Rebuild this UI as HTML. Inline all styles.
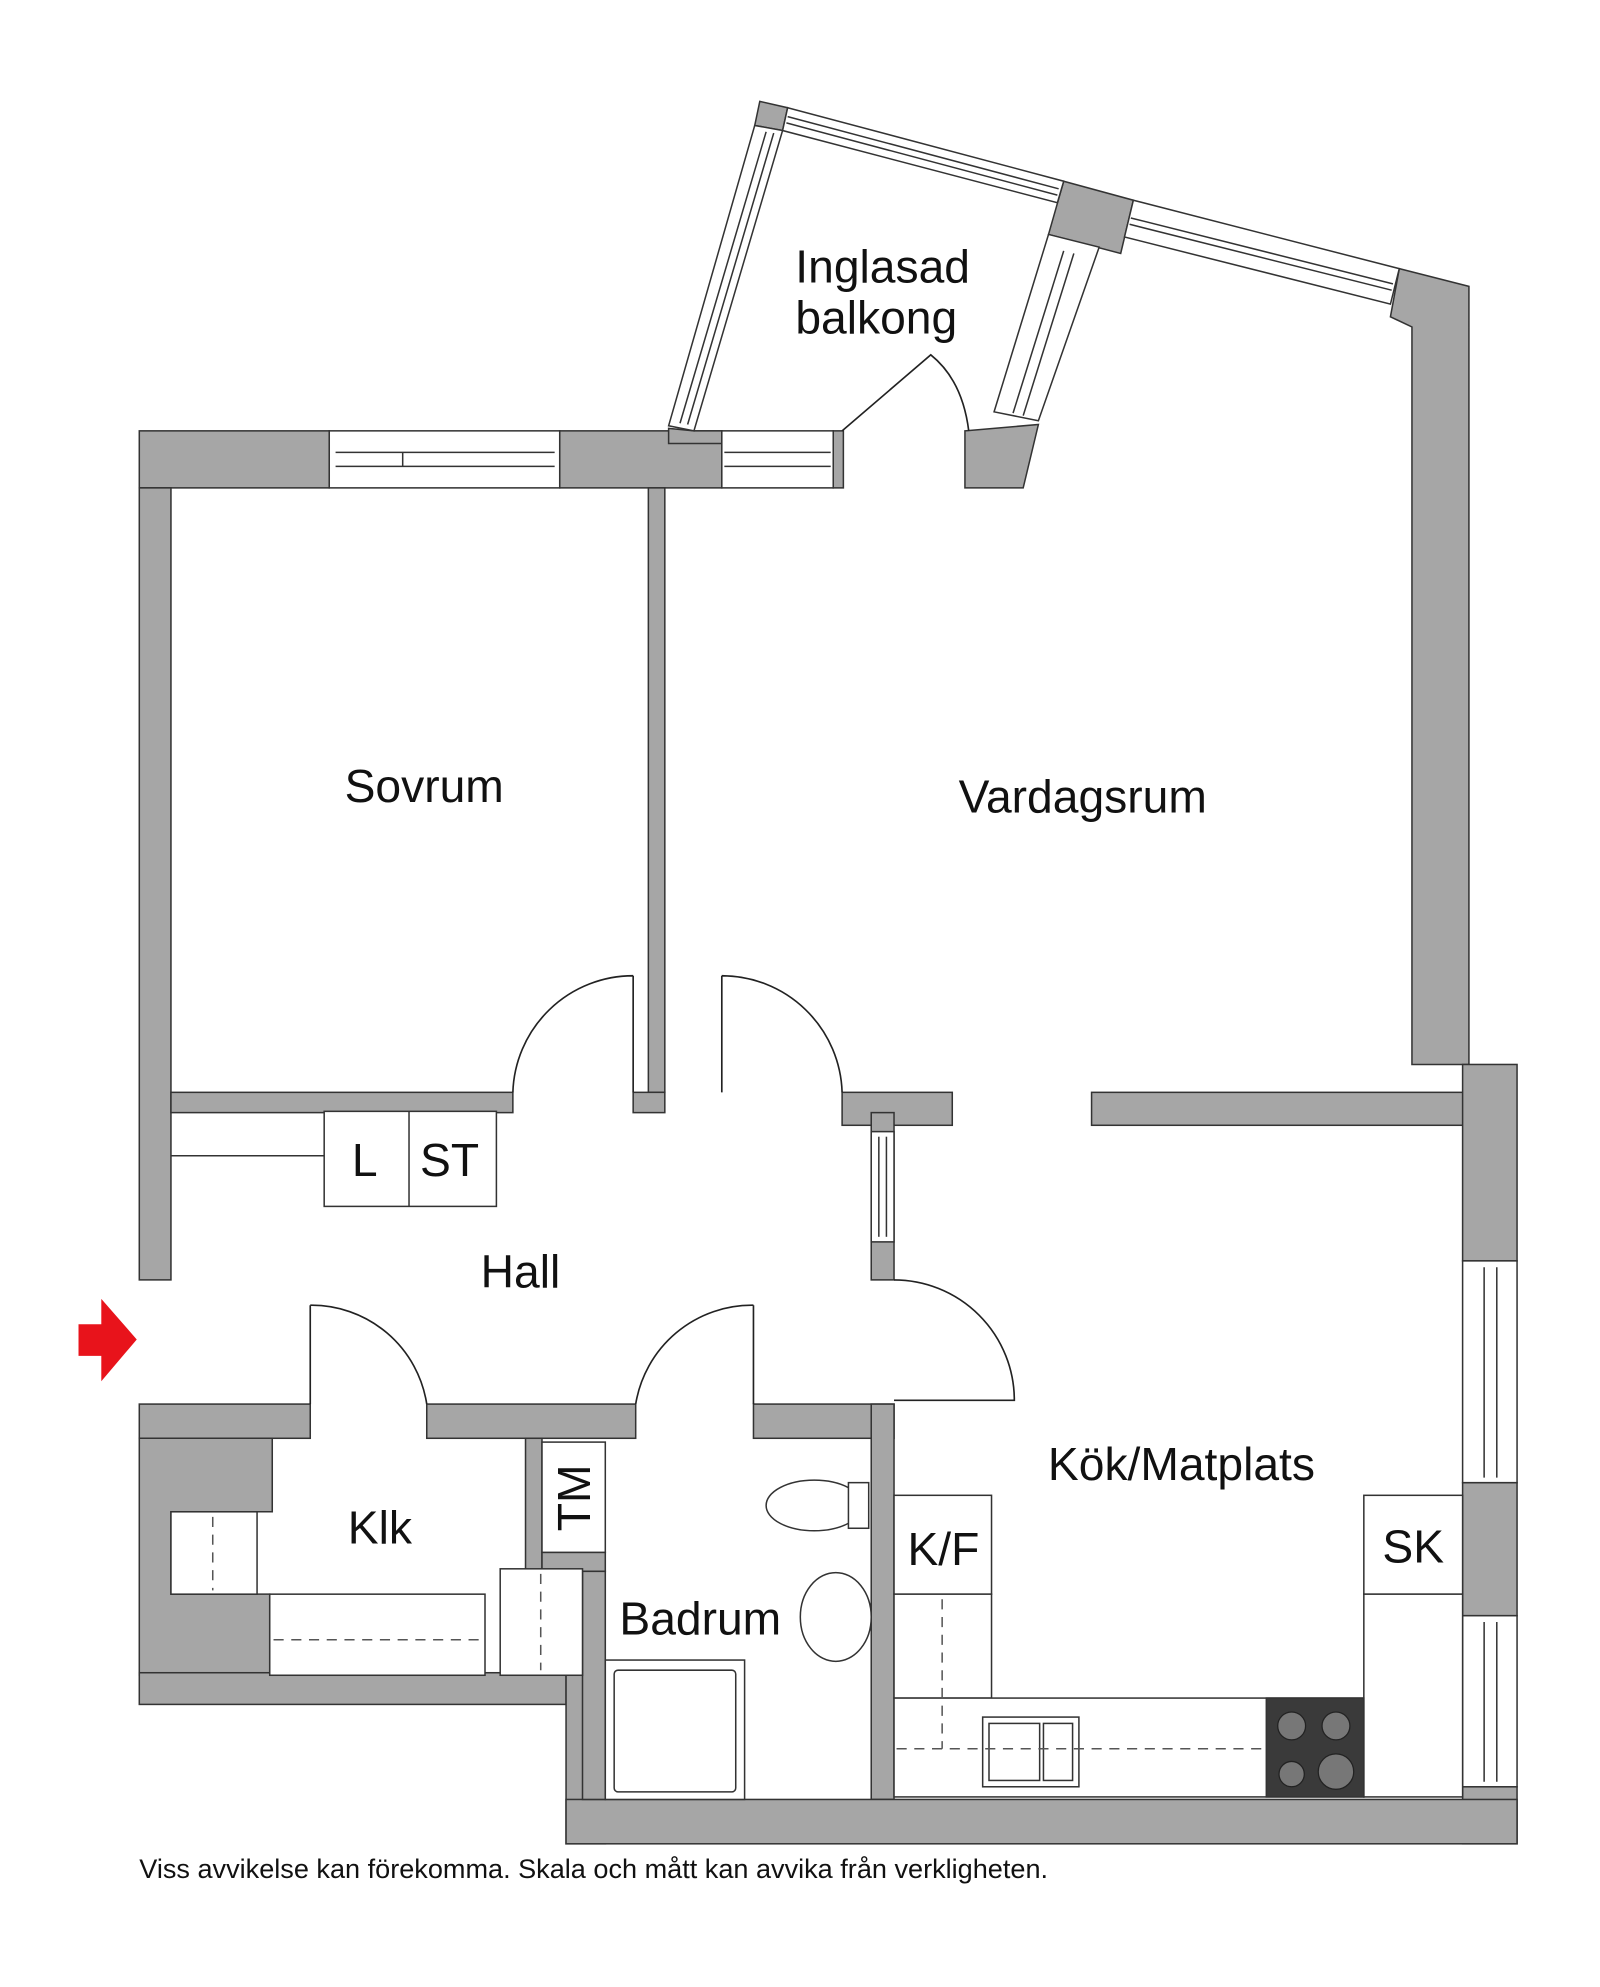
<!DOCTYPE html>
<html><head><meta charset="utf-8"><style>
html,body{margin:0;padding:0;background:#fff}
svg{display:block}
text{font-family:"Liberation Sans",Arial,sans-serif;fill:#111}
</style></head><body>
<svg width="1600" height="1987" viewBox="0 0 1263.5 1568" preserveAspectRatio="none" xmlns="http://www.w3.org/2000/svg">
<g fill="#a6a6a6" stroke="#333" stroke-width="1.2">
<rect x="110" y="340" width="150" height="45"/>
<rect x="442" y="340" width="128" height="45"/>
<rect x="658" y="340" width="8" height="45"/>
<polygon points="762,340 820,335 808,385 762,385"/>
<rect x="110" y="385" width="25" height="625"/>
<rect x="512" y="385" width="13" height="477"/>
<rect x="500" y="862" width="25" height="16"/>
<rect x="135" y="862" width="270" height="16"/>
<rect x="665" y="862" width="87" height="26"/>
<rect x="862" y="862" width="298" height="26"/>
<polygon points="1105,212 1160,226 1160,840 1115,840 1115,258 1098,250"/>
<rect x="1155" y="840" width="43" height="155"/>
<rect x="1155" y="1170" width="43" height="105"/>
<rect x="1155" y="1410" width="43" height="45"/>
<rect x="688" y="878" width="18" height="132"/>
<rect x="110" y="1108" width="135" height="27"/>
<rect x="337" y="1108" width="165" height="27"/>
<rect x="595" y="1108" width="111" height="27"/>
<rect x="688" y="1108" width="18" height="312"/>
<polygon points="110,1135 215,1135 215,1193 135,1193 135,1258 213,1258 213,1322 110,1322"/>
<rect x="110" y="1320" width="337" height="25"/>
<rect x="447" y="1320" width="31" height="135"/>
<rect x="447" y="1420" width="751" height="35"/>
<rect x="415" y="1135" width="13" height="105"/>
<rect x="428" y="1225" width="50" height="15"/>
<rect x="460" y="1240" width="18" height="180"/>
<polygon points="600,80 622,85 618,103 596,99"/>
<polygon points="840,143 895,158 885,200 828,185"/>
<polygon points="528,338 548,340 570,340 570,350 528,350"/>
</g>
<g fill="#fff" stroke="#333" stroke-width="1.2">
<rect x="260" y="340" width="182" height="45"/><line x1="265" y1="357" x2="438" y2="357"/><line x1="265" y1="368" x2="438" y2="368"/><line x1="318" y1="357" x2="318" y2="368"/>
<rect x="570" y="340" width="88" height="45"/><line x1="572" y1="357" x2="656" y2="357"/><line x1="572" y1="368" x2="656" y2="368"/>
<rect x="688" y="893" width="18" height="87"/><line x1="694" y1="897" x2="694" y2="976"/><line x1="700" y1="897" x2="700" y2="976"/>
<rect x="1155" y="995" width="43" height="175"/><line x1="1172" y1="1000" x2="1172" y2="1166"/><line x1="1182" y1="1000" x2="1182" y2="1166"/>
<rect x="1155" y="1275" width="43" height="135"/><line x1="1172" y1="1280" x2="1172" y2="1406"/><line x1="1182" y1="1280" x2="1182" y2="1406"/>
<polygon points="596,99 618,103 548,340 528,336"/>
<line x1="605" y1="104" x2="537" y2="334"/><line x1="611" y1="105" x2="543" y2="335"/>
<polygon points="622,85 840,143 835,160 618,103"/>
<line x1="622" y1="92" x2="836" y2="149"/><line x1="621" y1="97" x2="835" y2="154"/>
<polygon points="895,158 1105,212 1098,240 888,187"/>
<line x1="893" y1="172" x2="1100" y2="224"/><line x1="892" y1="177" x2="1099" y2="229"/>
<polygon points="828,185 868,195 820,332 785,325"/>
<line x1="840" y1="198" x2="800" y2="326"/><line x1="848" y1="200" x2="808" y2="328"/>
</g>
<g fill="none" stroke="#222" stroke-width="1.3">
<path d="M665,340 L735,280 Q760,300 765,340"/>
<path d="M500,770 L500,862 M500,770 A95,95 0 0 0 405,862"/>
<path d="M570,770 L570,862 M570,770 A95,95 0 0 1 665,862"/>
<path d="M706,1010 A95,95 0 0 1 801,1105 L706,1105"/>
<path d="M245,1030 L245,1108 M245,1030 A92,92 0 0 1 337,1108"/>
<path d="M595,1030 L595,1108 M595,1030 A93,93 0 0 0 502,1108"/>
</g>
<polygon points="62,1045 80,1045 80,1025 108,1057 80,1090 80,1070 62,1070" fill="#e8131b"/>
<g fill="#fff" stroke="#333" stroke-width="1.2">
<line x1="135" y1="912" x2="256" y2="912"/>
<rect x="256" y="877" width="136" height="75"/><line x1="323" y1="877" x2="323" y2="952"/>
<rect x="428" y="1138" width="50" height="87"/>
<rect x="135" y="1193" width="68" height="65"/>
<rect x="213" y="1258" width="170" height="64"/>
<rect x="395" y="1238" width="65" height="84"/>
<rect x="706" y="1180" width="77" height="78"/>
<rect x="706" y="1258" width="77" height="82"/>
<rect x="706" y="1340" width="371" height="78"/>
<rect x="1077" y="1180" width="78" height="78"/>
<rect x="1077" y="1258" width="78" height="160"/>
<rect x="1000" y="1340" width="77" height="78" fill="#3a3a3a"/>
<rect x="478" y="1310" width="110" height="110"/><rect x="485" y="1318" width="96" height="96" rx="3"/>
<ellipse cx="643" cy="1188" rx="38" ry="20"/><rect x="670" y="1170" width="16" height="36"/>
<ellipse cx="660" cy="1276" rx="28" ry="35"/>
<rect x="776" y="1355" width="76" height="55"/><rect x="781" y="1360" width="40" height="45"/><rect x="824" y="1360" width="23" height="45"/>
</g>
<g fill="#777" stroke="#222">
<circle cx="1020" cy="1362" r="11"/><circle cx="1055" cy="1362" r="11"/><circle cx="1020" cy="1400" r="10"/><circle cx="1055" cy="1398" r="14"/>
</g>
<g stroke="#555" stroke-width="1.2" stroke-dasharray="8,6" fill="none">
<line x1="168" y1="1197" x2="168" y2="1255"/><line x1="216" y1="1294" x2="380" y2="1294"/><line x1="427" y1="1242" x2="427" y2="1318"/>
<line x1="744" y1="1262" x2="744" y2="1380"/><line x1="708" y1="1380" x2="1000" y2="1380"/>
</g>
<g font-size="36.5" text-anchor="middle">
<text x="335" y="633">Sovrum</text>
<text x="855" y="641">Vardagsrum</text>
<text x="697" y="223">Inglasad</text>
<text x="692" y="263">balkong</text>
<text x="411" y="1016">Hall</text>
<text x="288" y="928">L</text>
<text x="355" y="928">ST</text>
<text x="300" y="1218">Klk</text>
<text x="553" y="1290">Badrum</text>
<text x="933" y="1168">Kök/Matplats</text>
<text x="745" y="1235">K/F</text>
<text x="1116" y="1233">SK</text>
<text x="0" y="0" transform="translate(466,1182) rotate(-90)">TM</text>
</g>
<text x="110" y="1482" font-size="21.4">Viss avvikelse kan förekomma. Skala och mått kan avvika från verkligheten.</text>
</svg>
</body></html>
